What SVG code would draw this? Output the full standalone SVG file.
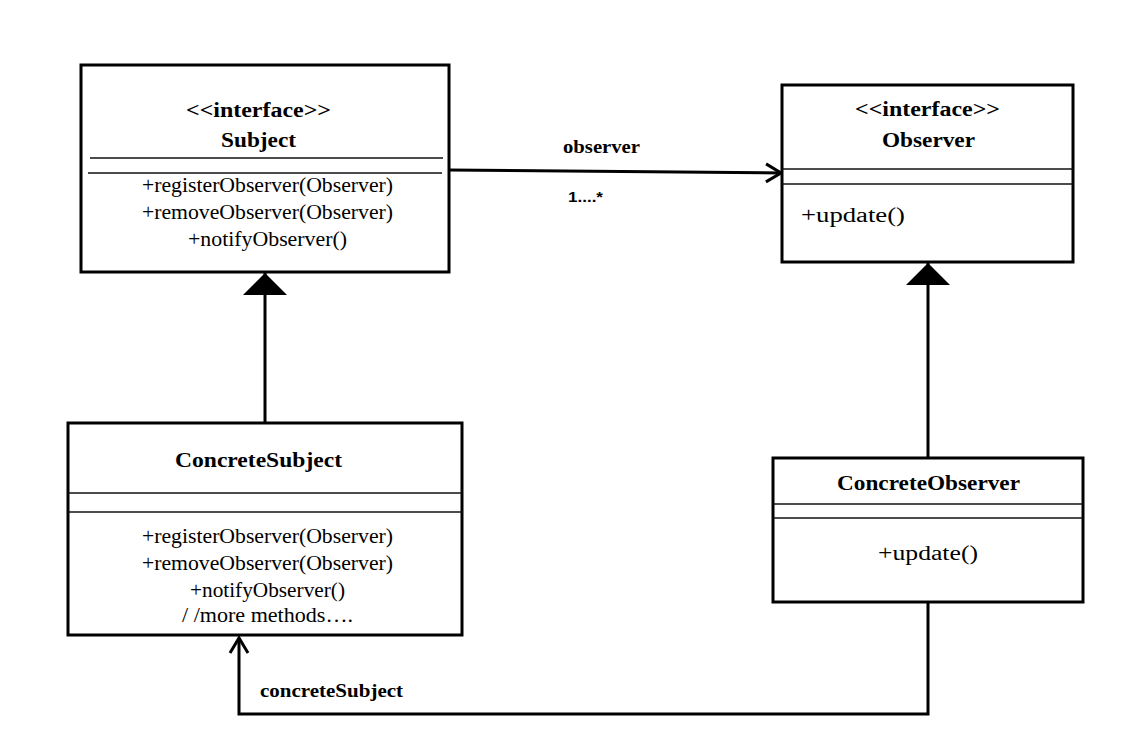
<svg xmlns="http://www.w3.org/2000/svg" width="1148" height="749" viewBox="0 0 1148 749">
  <style>
    .box { fill: #fff; stroke: #000; stroke-width: 3; }
    .div { stroke: #111; stroke-width: 1.3; }
    .conn { fill: none; stroke: #000; stroke-width: 3; }
    text { font-family: "Liberation Serif", "Times New Roman", serif; fill: #000; }
    .title { font-size: 21px; font-weight: bold; text-anchor: middle; }
    .stereo { font-size: 20px; font-weight: bold; text-anchor: middle; }
    .method { font-size: 20px; text-anchor: middle; }
    .label { font-size: 18px; font-weight: bold; }
    .mult { font-family: "Liberation Sans", Arial, sans-serif; font-size: 15px; font-weight: bold; }
  </style>
  <defs>
    <!-- filled triangle for realization/generalization -->
    <marker id="tri" viewBox="0 0 22 44" refX="22" refY="22" markerWidth="22" markerHeight="44" markerUnits="userSpaceOnUse" orient="auto">
      <path d="M0,0 L22,22 L0,44 z" fill="#000"/>
    </marker>
    <!-- open arrowhead for associations -->
    <marker id="open" viewBox="-2 -2 20 22" refX="15" refY="9" markerWidth="20" markerHeight="22" markerUnits="userSpaceOnUse" orient="auto" overflow="visible">
      <path d="M0,0 L15,9 L0,18" fill="none" stroke="#000" stroke-width="3" stroke-linejoin="miter"/>
    </marker>
  </defs>

  <rect width="1148" height="749" fill="#fff"/>

  <g id="connectors">
    <line class="conn" x1="449" y1="170" x2="781" y2="173" marker-end="url(#open)"/>
    <line class="conn" x1="265" y1="423" x2="265" y2="273" marker-end="url(#tri)"/>
    <line class="conn" x1="928" y1="458" x2="928" y2="263" marker-end="url(#tri)"/>
    <polyline class="conn" points="928,602 928,714 239,714 239,638" marker-end="url(#open)"/>
    <text class="label" x="601.5" y="153" text-anchor="middle" textLength="77" lengthAdjust="spacingAndGlyphs">observer</text>
    <text class="mult" x="568" y="202" textLength="35" lengthAdjust="spacingAndGlyphs">1....*</text>
    <text class="label" x="260" y="697" font-size="19" textLength="143" lengthAdjust="spacingAndGlyphs">concreteSubject</text>
  </g>

  <g id="subject">
    <rect class="box" x="81" y="65" width="368" height="207"/>
    <text class="stereo" x="258.5" y="117" textLength="145" lengthAdjust="spacingAndGlyphs">&lt;&lt;interface&gt;&gt;</text>
    <text class="title" x="258.5" y="147" textLength="75" lengthAdjust="spacingAndGlyphs">Subject</text>
    <line class="div" x1="90" y1="158" x2="443" y2="158"/>
    <line class="div" x1="88" y1="173" x2="442" y2="173"/>
    <text class="method" x="267.5" y="192" textLength="251" lengthAdjust="spacingAndGlyphs">+registerObserver(Observer)</text>
    <text class="method" x="267.5" y="219" textLength="251" lengthAdjust="spacingAndGlyphs">+removeObserver(Observer)</text>
    <text class="method" x="267.5" y="246" textLength="159" lengthAdjust="spacingAndGlyphs">+notifyObserver()</text>
  </g>

  <g id="observer">
    <rect class="box" x="782" y="85" width="291" height="177"/>
    <text class="stereo" x="927.5" y="116" textLength="145" lengthAdjust="spacingAndGlyphs">&lt;&lt;interface&gt;&gt;</text>
    <text class="title" x="928.5" y="147" textLength="93" lengthAdjust="spacingAndGlyphs">Observer</text>
    <line class="div" x1="782" y1="169" x2="1073" y2="169"/>
    <line class="div" x1="782" y1="184" x2="1073" y2="184"/>
    <text class="method" x="853" y="222" text-anchor="start" textLength="104" lengthAdjust="spacingAndGlyphs">+update()</text>
  </g>

  <g id="concrete-subject">
    <rect class="box" x="68" y="423" width="394" height="212"/>
    <text class="title" x="258.5" y="467" textLength="167" lengthAdjust="spacingAndGlyphs">ConcreteSubject</text>
    <line class="div" x1="68" y1="493" x2="462" y2="493"/>
    <line class="div" x1="68" y1="512" x2="462" y2="512"/>
    <text class="method" x="267.5" y="543" textLength="251" lengthAdjust="spacingAndGlyphs">+registerObserver(Observer)</text>
    <text class="method" x="267.5" y="570" textLength="251" lengthAdjust="spacingAndGlyphs">+removeObserver(Observer)</text>
    <text class="method" x="267.5" y="597" textLength="155" lengthAdjust="spacingAndGlyphs">+notifyObserver()</text>
    <text class="method" x="267.5" y="622" textLength="171" lengthAdjust="spacingAndGlyphs">/ /more methods….</text>
  </g>

  <g id="concrete-observer">
    <rect class="box" x="773" y="458" width="310" height="144"/>
    <text class="title" x="928.5" y="490" textLength="183" lengthAdjust="spacingAndGlyphs">ConcreteObserver</text>
    <line class="div" x1="773" y1="504" x2="1083" y2="504"/>
    <line class="div" x1="773" y1="518" x2="1083" y2="518"/>
    <text class="method" x="928" y="560" textLength="100" lengthAdjust="spacingAndGlyphs">+update()</text>
  </g>
</svg>
